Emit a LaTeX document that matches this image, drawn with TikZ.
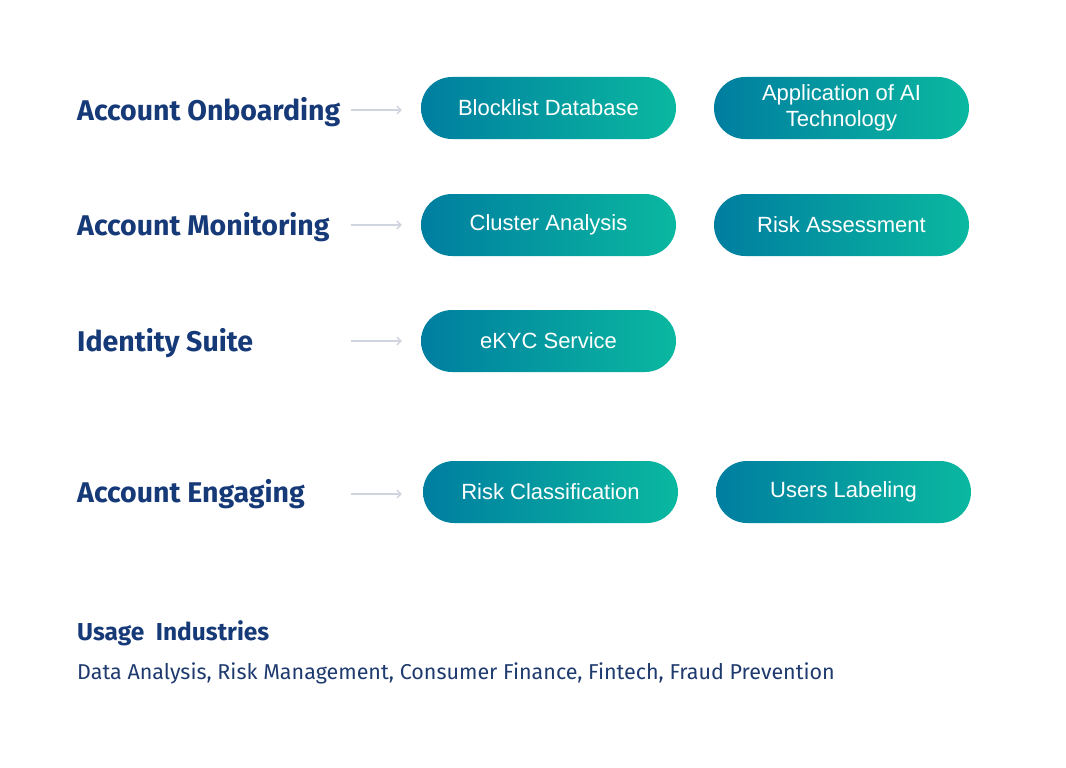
\documentclass[tikz,border=0pt]{standalone}
\usepackage{fontspec}
\setmainfont{Fira Sans}
\newfontfamily\pillfont{Liberation Sans}
\usepackage{xcolor}
\usetikzlibrary{arrows.meta,positioning,calc}
\definecolor{labelnavy}{RGB}{22,57,120}
\definecolor{textnavy}{RGB}{30,58,110}
\definecolor{arrowgray}{RGB}{208,212,222}
\definecolor{pillblue}{RGB}{0,126,160}
\definecolor{pillgreen}{RGB}{10,184,160}

\begin{document}
\begin{tikzpicture}[x=1pt, y=-1pt,
        rowlabel/.style={anchor=west, inner sep=0pt, font=\fontsize{28.5}{32}\selectfont\bfseries\color{labelnavy}},
        pill/.style={rectangle, rounded corners=31pt, minimum width=255pt, minimum height=62pt,
            left color=pillblue, right color=pillgreen, draw=none, align=center,
            text=white, font=\pillfont\fontsize{22}{26}\selectfont},
        flowarr/.style={-{Straight Barb[length=4pt,width=8pt]}, draw=arrowgray, line width=1.4pt}]
        \useasboundingbox (0,0) rectangle (1066,768);
        % Account Onboarding
        \node[rowlabel] (lab1) at (77,112) {Account Onboarding};
        \node[pill] (b11) at (548.5,108) {Blocklist Database};
        \node[pill] (b12) at (841.5,108) {Application of AI\\Technology};
        % Account Monitoring
        \node[rowlabel] (lab2) at (77,227) {Account Monitoring};
        \node[pill] (b21) at (548.5,225) {Cluster Analysis};
        \node[pill] (b22) at (841.5,225) {Risk Assessment};
        % Identity Suite
        \node[rowlabel] (lab3) at (77,343) {Identity Suite};
        \node[pill] (b31) at (548.5,341) {eKYC Service};
        % Account Engaging
        \node[rowlabel] (lab4) at (77,494) {Account Engaging};
        \node[pill] (b41) at (550.5,492) {Risk Classification};
        \node[pill] (b42) at (843.5,492) {Users Labeling};
        % arrows
        \coordinate (s1) at (351,110);
        \coordinate (s2) at (351,225);
        \coordinate (s3) at (351,341);
        \coordinate (s4) at (351,494);
        \draw[flowarr] (s1) -- ([xshift=-19pt]b11.west |- s1);
        \draw[flowarr] (s2) -- ([xshift=-19pt]b21.west |- s2);
        \draw[flowarr] (s3) -- ([xshift=-19pt]b31.west |- s3);
        \draw[flowarr] (s4) -- ([xshift=-21pt]b41.west |- s4);

        % Usage industries
        \node[anchor=west, inner sep=0pt, font=\fontsize{24.5}{28}\selectfont\bfseries\color{labelnavy}] (usage) at (77,633) {Usage\ \ Industries};
        \node[anchor=west, inner sep=0pt, font=\fontsize{21.5}{25}\selectfont\color{textnavy}] (inds) at (77,673) {Data Analysis, Risk Management, Consumer Finance, Fintech, Fraud Prevention};
    \end{tikzpicture}
\end{document}
